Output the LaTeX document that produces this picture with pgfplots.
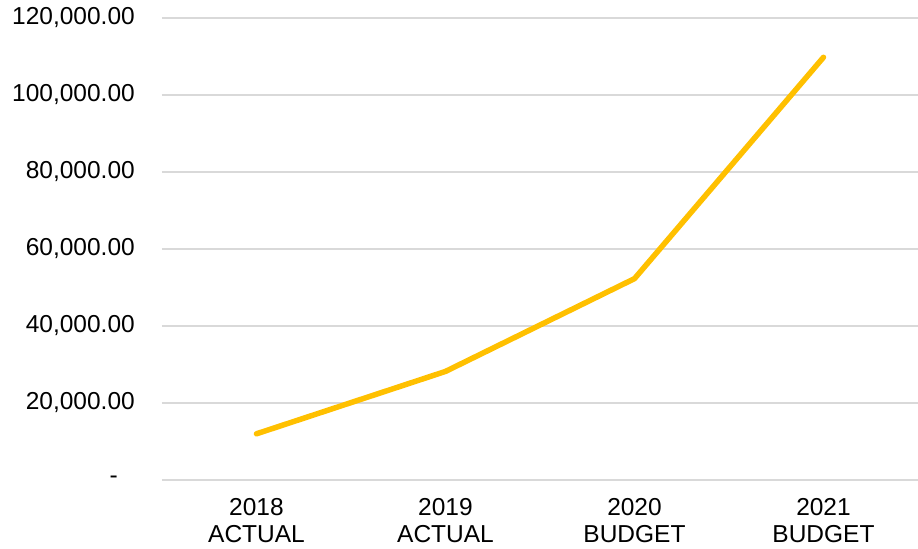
\documentclass[border=0pt]{standalone}
\usepackage{pgfplots}
\pgfplotsset{compat=1.18}
\usetikzlibrary{calc}
\usepackage{fontspec}
\setmainfont{Liberation Sans}
\definecolor{lineyel}{HTML}{FFC000}
\definecolor{gridgray}{HTML}{D9D9D9}
\begin{document}
\fontsize{24bp}{27bp}\selectfont
\begin{tikzpicture}
\begin{axis}[
  scale only axis,
  width=756bp, height=462bp,
  xmin=-0.5, xmax=3.5,
  ymin=0, ymax=120000,
  scaled y ticks=false,
  axis line style={draw=none},
  major tick length=0,
  ymajorgrids,
  grid style={gridgray, line width=1.5bp},
  ytick={0,20000,40000,60000,80000,100000,120000},
  yticklabels={{\textrm{-}\rule{17bp}{0pt}},{20,000.00},{40,000.00},{60,000.00},{80,000.00},{100,000.00},{120,000.00}},
  xtick={0,1,2,3},
  xticklabels={{2018\\ACTUAL},{2019\\ACTUAL},{2020\\BUDGET},{2021\\BUDGET}},
  xticklabel style={align=center, font=\fontsize{24.5bp}{27bp}\selectfont, yshift=-10bp},
  yticklabel style={font=\fontsize{24.5bp}{27bp}\selectfont, xshift=-19bp},
  clip=false,
]
\addplot[lineyel, line width=5.5bp, line cap=round, line join=round] coordinates {
  (0,12000) (1,28200) (2,52300) (3,109800)
};
\coordinate (O) at (rel axis cs:0,0);
\end{axis}
\pgfresetboundingbox
\path ($(O)+(-162bp,-69bp)$) rectangle ($(O)+(756bp,480bp)$);
\end{tikzpicture}
\end{document}
